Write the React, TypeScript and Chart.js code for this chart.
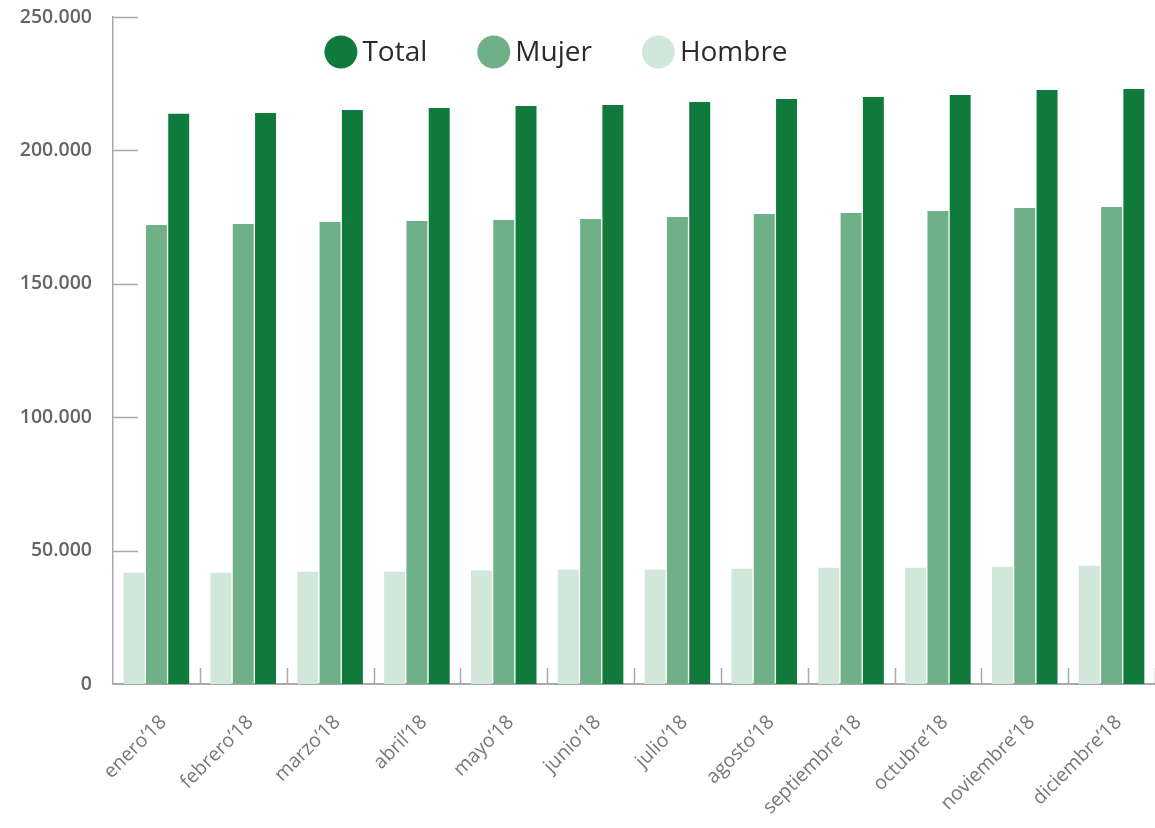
import React, { useEffect, useRef } from 'react';
import { Chart, registerables } from 'chart.js';

Chart.register(...registerables);

const categories = [
  'enero’18', 'febrero’18', 'marzo’18', 'abril’18', 'mayo’18', 'junio’18',
  'julio’18', 'agosto’18', 'septiembre’18', 'octubre’18', 'noviembre’18', 'diciembre’18',
];
const hombre = [41700, 41700, 42100, 42100, 42500, 42800, 42800, 43200, 43600, 43600, 43900, 44300];
const mujer = [172000, 172400, 173200, 173500, 173900, 174300, 175000, 176200, 176500, 177300, 178400, 178800];
const total = [213700, 214000, 215100, 215900, 216600, 217000, 218100, 219300, 220000, 220800, 222600, 223000];
const yMin = 0;
const yMax = 250000;
const yStep = 50000;

const COLORS = { total: '#0f7a3b', mujer: '#6fb089', hombre: '#d0e7da' };
const AXIS = '#a9a9a9';
const FONT = "'Open Sans', sans-serif";

const fmt = (v: number) => String(v).replace(/\B(?=(\d{3})+(?!\d))/g, '.');

const axisTicksPlugin = {
  id: 'axisTicks',
  afterDraw(chart: any) {
    const { ctx, chartArea, scales } = chart;
    const x = scales.x;
    const y = scales.y;
    ctx.save();
    ctx.strokeStyle = AXIS;
    ctx.lineWidth = 1.5;
    y.ticks.forEach((t: any) => {
      if (t.value === 0) return;
      const py = Math.round(y.getPixelForValue(t.value)) + 0.5;
      ctx.beginPath();
      ctx.moveTo(chartArea.left, py);
      ctx.lineTo(chartArea.left + 25, py);
      ctx.stroke();
    });
    const n = chart.data.labels.length;
    const step = x.getPixelForValue(1) - x.getPixelForValue(0);
    for (let i = 1; i <= n; i++) {
      const px = Math.round(x.getPixelForValue(i - 1) + step / 2) + 0.5;
      ctx.beginPath();
      ctx.moveTo(px, chartArea.bottom);
      ctx.lineTo(px, chartArea.bottom - 16);
      ctx.stroke();
    }
    ctx.restore();
  },
};

const circleLegendPlugin = {
  id: 'circleLegend',
  afterDraw(chart: any) {
    const { ctx } = chart;
    const items = [...chart.data.datasets].reverse();
    const fontSize = 28;
    const r = 16.5;
    const gapText = 5;
    const gapItem = 50;
    ctx.save();
    ctx.font = `${fontSize}px ${FONT}`;
    const widths = items.map((d: any) => 2 * r + gapText + ctx.measureText(d.label).width);
    const totalW = widths.reduce((a: number, b: number) => a + b, 0) + gapItem * (items.length - 1);
    let cx = 556 - totalW / 2;
    const cy = 52;
    items.forEach((d: any, i: number) => {
      ctx.fillStyle = d.backgroundColor;
      ctx.beginPath();
      ctx.arc(cx + r, cy, r, 0, Math.PI * 2);
      ctx.fill();
      ctx.fillStyle = '#2b2b2b';
      ctx.textBaseline = 'middle';
      ctx.textAlign = 'left';
      ctx.fillText(d.label, cx + 2 * r + gapText, cy + 1);
      cx += widths[i] + gapItem;
    });
    ctx.restore();
  },
};

export default function App() {
  const ref = useRef<HTMLCanvasElement | null>(null);

  useEffect(() => {
    if (!ref.current) return;
    const chart = new Chart(ref.current, {
      type: 'bar',
      data: {
        labels: categories,
        datasets: [
          { label: 'Hombre', data: hombre, backgroundColor: COLORS.hombre },
          { label: 'Mujer', data: mujer, backgroundColor: COLORS.mujer },
          { label: 'Total', data: total, backgroundColor: COLORS.total },
        ],
      },
      options: {
        animation: false,
        responsive: true,
        maintainAspectRatio: false,
        layout: { padding: { left: 17, top: 17, right: 0, bottom: 0 } },
        datasets: {
          bar: { categoryPercentage: 0.77, barPercentage: 0.94 },
        },
        plugins: {
          legend: { display: false },
          tooltip: { enabled: false },
        },
        scales: {
          x: {
            grid: { display: false, drawTicks: false },
            border: { display: true, color: AXIS, width: 2 },
            ticks: {
              color: '#777',
              font: { family: FONT, size: 19.5 },
              maxRotation: 45,
              minRotation: 45,
              padding: 27,
              labelOffset: 7,
              autoSkip: false,
            },
            afterFit: (s: any) => {
              s.paddingLeft = 0;
              s.paddingRight = 0;
              s.height = 144;
            },
          },
          y: {
            min: yMin,
            max: yMax,
            grid: { display: false, drawTicks: false },
            border: { display: true, color: AXIS, width: 1.5 },
            ticks: {
              stepSize: yStep,
              color: '#666',
              font: { family: FONT, size: 19.5, weight: 600 },
              padding: 21,
              callback: (v: any) => fmt(Number(v)),
            },
            afterFit: (s: any) => {
              s.paddingTop = 0;
              s.paddingBottom = 0;
              s.width = 96;
            },
          },
        },
      },
      plugins: [axisTicksPlugin, circleLegendPlugin],
    });
    return () => chart.destroy();
  }, []);

  return (
    <div style={{ position: 'fixed', left: 0, top: 0, width: 1155, height: 828, background: '#fff' }}>
      <canvas ref={ref} />
    </div>
  );
}
